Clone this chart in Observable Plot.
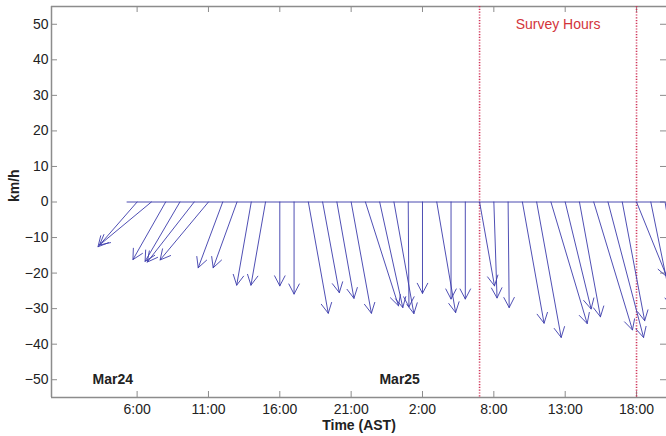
<!DOCTYPE html>
<html><head><meta charset="utf-8">
<script src="https://cdn.jsdelivr.net/npm/d3@7"></script>
<script src="https://cdn.jsdelivr.net/npm/@observablehq/plot@0.6"></script>
<style>html,body{margin:0;padding:0;overflow:hidden;background:#fff} svg{display:block}</style>
</head><body><div id="chart"></div>
<script>
// hours since Mar24 00:00 (AST)
const hours = [6,7,8,9,10,11,12,13,14,15,16,17,18,19,20,21,22,23,24,25,26,27,28,29,30,31,32,33,34,35,36,37,38,39,40,41,42,43];
// eastward component (km/h)
const uWind = [-11.0,-14.6,-9.2,-9.8,-13.2,-13.6,-6.9,-6.7,-4.1,-4.1,0,0,5.6,4.7,4.8,5.7,9.3,6.5,5.6,0.2,0,5.3,0,0,4.2,0.9,0.3,6.1,6.9,10.2,7.3,5.9,10.9,10.0,6.3,8.5,6.0,5.0];
// northward component (km/h)
const vWind = [-12.6,-12.1,-16.2,-16.7,-16.9,-16.3,-18.5,-18.5,-23.4,-23.4,-23.6,-25.9,-31.3,-25.5,-27.1,-31.3,-29.2,-29.7,-31.4,-29.5,-25.7,-31.1,-27.3,-27.3,-23.6,-27.0,-29.7,-34.1,-38.1,-34.2,-30.1,-32.3,-36.0,-38.1,-33.4,-21.0,-29.5,-30.0];
const baselineStart = 5.3; // hour where the zero line begins

const xTicks = [6,11,16,21,26,31,36,41];
const xTickLabels = ["6:00","11:00","16:00","21:00","2:00","8:00","13:00","18:00"];
const yTicks = [-50,-40,-30,-20,-10,0,10,20,30,40,50];
const surveyHours = [30, 41];
const surveyLabel = "Survey Hours";
const dateLabels = ["Mar24","Mar25"];
const dateHours = [4.3, 24.4];
const dateLevel = -50;
const xDomain = [0, 43.1];
const yDomain = [-55, 55];
const xTitle = "Time (AST)";
const yTitle = "km/h";

const W = 666, H = 436;
const mL = 51, mR = 0, mT = 6, mB = 39;
const pxPerHour = (W - mL - mR) / (xDomain[1] - xDomain[0]);
const pxPerUnit = (H - mT - mB) / (yDomain[1] - yDomain[0]);
const k = pxPerUnit / pxPerHour; // km/h -> hours on x, equal aspect
const tickPx = 6;
const tyLen = tickPx / pxPerUnit, txLen = tickPx / pxPerHour;

const winds = hours.map((t, i) => ({t, u: uWind[i], v: vWind[i]}));
const dates = dateLabels.map((label, i) => ({label, t: dateHours[i], y: dateLevel}));
const fmt = d => xTickLabels[xTicks.indexOf(d)];
const axisGray = "#8c8c8c";

const chart = Plot.plot({
  width: W, height: H,
  marginLeft: mL, marginRight: mR, marginTop: mT, marginBottom: mB,
  style: {fontFamily: "'Liberation Sans', Arial, sans-serif", fontSize: "14px", color: "#222", background: "#fff"},
  x: {domain: xDomain, ticks: xTicks, tickFormat: fmt, tickSize: 0, tickPadding: 7, label: null},
  y: {domain: yDomain, ticks: yTicks, tickSize: 0, tickPadding: 3, label: null},
  marks: [
    // frame lines
    Plot.ruleY([yDomain[0], yDomain[1]], {stroke: axisGray, strokeWidth: 1.5}),
    Plot.ruleX([xDomain[0]], {stroke: axisGray, strokeWidth: 1.5}),
    // inward ticks on all four sides
    Plot.ruleX(xTicks, {y1: yDomain[0], y2: yDomain[0] + tyLen, stroke: axisGray}),
    Plot.ruleX(xTicks, {y1: yDomain[1], y2: yDomain[1] - tyLen, stroke: axisGray}),
    Plot.ruleY(yTicks, {x1: xDomain[0], x2: xDomain[0] + txLen, stroke: axisGray}),
    Plot.ruleY(yTicks, {x1: xDomain[1], x2: xDomain[1] - txLen, stroke: axisGray}),
    Plot.text([xTitle], {frameAnchor: "bottom", dy: 32, fontWeight: "bold", fill: "#222"}),
    Plot.text([yTitle], {frameAnchor: "left", dx: -37, rotate: -90, fontWeight: "bold", fill: "#222"}),
    // survey hours
    Plot.ruleX(surveyHours, {stroke: "#d0365a", strokeWidth: 1.6, strokeDasharray: "1.2,1.6"}),
    Plot.text([surveyLabel], {x: d3.mean(surveyHours), y: yDomain[1] - 5, fill: "#d3343a", fontSize: 14}),
    // date labels
    Plot.text(dates, {x: "t", y: "y", text: "label", fontWeight: "bold", fill: "#222"}),
    // baseline
    Plot.ruleY([0], {x1: baselineStart, x2: d3.max(hours), stroke: "#4a4ab0", strokeWidth: 1, clip: true}),
    // wind sticks
    Plot.arrow(winds, {
      x1: "t", y1: () => 0,
      x2: d => d.t + d.u * k, y2: "v",
      stroke: "#3c3cac", strokeWidth: 1, strokeOpacity: 0.9,
      headLength: 17, headAngle: 55, clip: true
    })
  ]
});
document.getElementById("chart").appendChild(chart);
</script>
</body></html>
